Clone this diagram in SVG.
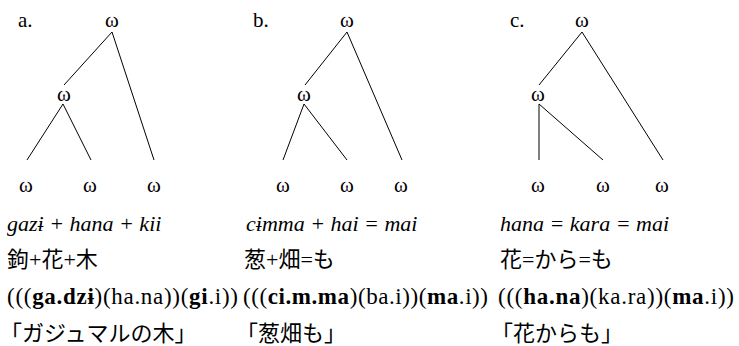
<svg xmlns="http://www.w3.org/2000/svg" width="739" height="346" viewBox="0 0 739 346">
<style>
text{fill:#000}
.w{font-family:"Liberation Serif","Times New Roman",serif;font-size:21px;text-anchor:middle}
.lab{font-family:"Liberation Serif","Times New Roman",serif;font-size:21px}
.it{font-family:"Liberation Serif","Times New Roman",serif;font-size:22px;font-style:italic}
.rm{font-family:"Liberation Serif","Times New Roman",serif;font-size:23px}
.jp{font-family:"Liberation Serif","Noto Sans CJK JP",serif;font-size:22px}
.jq{font-family:"Noto Sans CJK JP",sans-serif;font-size:22px}
.b{font-weight:bold}
.e line{stroke:#000;stroke-width:1}
</style>
<rect width="739" height="346" fill="#fff"/>
<g id="connectors" class="e">
<line x1="112" y1="32" x2="64" y2="85"/><line x1="112" y1="32" x2="154" y2="160"/>
<line x1="63" y1="104" x2="27" y2="160"/><line x1="63" y1="104" x2="91" y2="160"/>
<line x1="347" y1="32" x2="305" y2="85"/><line x1="347" y1="32" x2="402" y2="160"/>
<line x1="304" y1="104" x2="283" y2="160"/><line x1="304" y1="104" x2="347" y2="160"/>
<line x1="582" y1="32" x2="539" y2="85"/><line x1="582" y1="32" x2="663" y2="160"/>
<line x1="539" y1="104" x2="539" y2="160"/><line x1="539" y1="104" x2="603" y2="160"/>
</g>
<g id="tree-a">
<text class="lab" x="18" y="27">a.</text>
<text id="a-root" class="w" x="112" y="27">ω</text>
<text id="a-mid" class="w" x="64" y="101">ω</text>
<text id="a-l1" class="w" x="26" y="192">ω</text>
<text id="a-l2" class="w" x="90" y="192">ω</text>
<text id="a-l3" class="w" x="154" y="192">ω</text>
</g>
<g id="tree-b">
<text class="lab" x="253" y="27">b.</text>
<text id="b-root" class="w" x="347" y="27">ω</text>
<text id="b-mid" class="w" x="304" y="101">ω</text>
<text id="b-l1" class="w" x="283" y="192">ω</text>
<text id="b-l2" class="w" x="347" y="192">ω</text>
<text id="b-l3" class="w" x="401" y="192">ω</text>
</g>
<g id="tree-c">
<text class="lab" x="510" y="27">c.</text>
<text id="c-root" class="w" x="582" y="27">ω</text>
<text id="c-mid" class="w" x="538" y="101">ω</text>
<text id="c-l1" class="w" x="538" y="192">ω</text>
<text id="c-l2" class="w" x="603" y="192">ω</text>
<text id="c-l3" class="w" x="662" y="192">ω</text>
</g>
<g id="gloss-a">
<text class="it" x="7" y="231">gazɨ + hana + kii</text>
<text class="jp" x="7" y="267">鉤+花+木</text>
<text class="rm" x="7" y="304" textLength="231" lengthAdjust="spacing">(((<tspan class="b">ga.dzɨ</tspan>)(ha.na))(<tspan class="b">gi</tspan>.i))</text>
<text class="jq" x="0" y="341">「ガジュマルの木」</text>
</g>
<g id="gloss-b">
<text class="it" x="246" y="231">cɨmma + hai = mai</text>
<text class="jp" x="244" y="267">葱+畑=も</text>
<text class="rm" x="243" y="304" textLength="245" lengthAdjust="spacing">(((<tspan class="b">ci.m.ma</tspan>)(ba.i))(<tspan class="b">ma</tspan>.i))</text>
<text class="jq" x="236" y="341">「葱畑も」</text>
</g>
<g id="gloss-c">
<text class="it" x="500" y="231">hana = kara = mai</text>
<text class="jp" x="500" y="267">花=から=も</text>
<text class="rm" x="498" y="304" textLength="236" lengthAdjust="spacing">(((<tspan class="b">ha.na</tspan>)(ka.ra))(<tspan class="b">ma</tspan>.i))</text>
<text class="jq" x="491" y="341">「花からも」</text>
</g>
</svg>
